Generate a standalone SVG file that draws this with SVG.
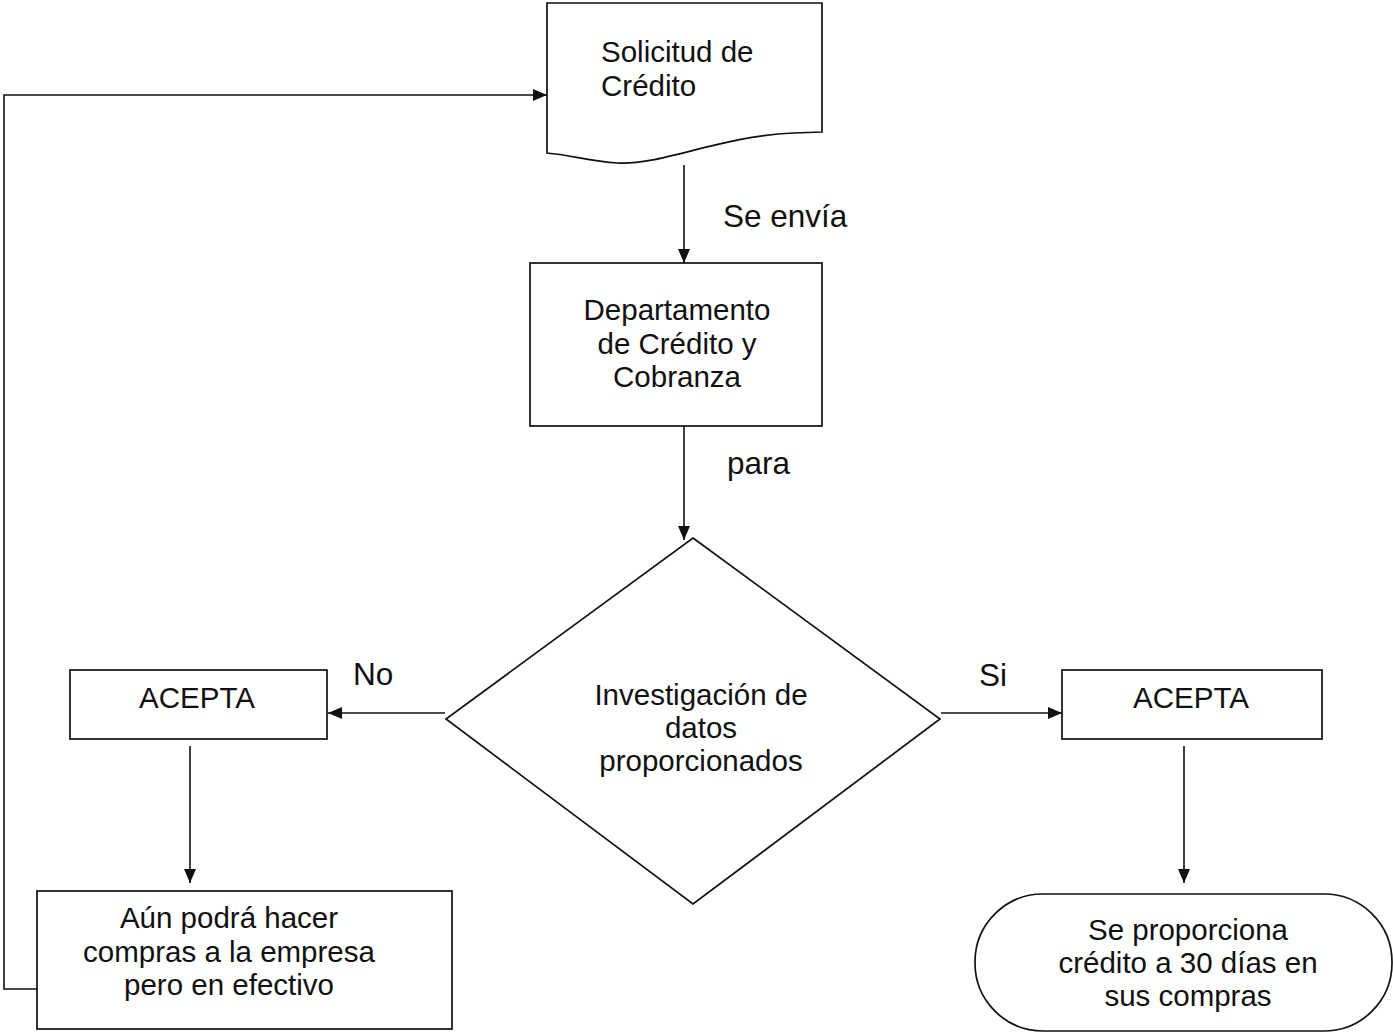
<svg xmlns="http://www.w3.org/2000/svg" width="1393" height="1033" viewBox="0 0 1393 1033">
<style>
.s{fill:#fff;stroke:#111;stroke-width:1.7}
.c{fill:none;stroke:#111;stroke-width:1.6}
text{font-family:"Liberation Sans",Arial,sans-serif;font-size:29.5px;fill:#111}
.l{font-size:31.5px}
.m{text-anchor:middle}
</style>
<defs>
<marker id="a" viewBox="0 0 14 12" refX="14" refY="6" markerWidth="14" markerHeight="12" markerUnits="userSpaceOnUse" orient="auto">
<path d="M0,0 L14,6 L0,12 Z" fill="#111"/>
</marker>
</defs>
<rect width="1393" height="1033" fill="#fff"/>
<g id="connectors">
<line class="c" x1="684" y1="165" x2="684" y2="263" marker-end="url(#a)"/>
<line class="c" x1="684" y1="426" x2="684" y2="540" marker-end="url(#a)"/>
<line class="c" x1="445" y1="713" x2="328" y2="713" marker-end="url(#a)"/>
<line class="c" x1="941" y1="713" x2="1062" y2="713" marker-end="url(#a)"/>
<line class="c" x1="190" y1="746" x2="190" y2="883" marker-end="url(#a)"/>
<line class="c" x1="1184" y1="746" x2="1184" y2="883" marker-end="url(#a)"/>
<polyline class="c" points="37,989 4,989 4,95 547,95" marker-end="url(#a)"/>
<text class="l" x="723" y="227">Se envía</text>
<text class="l" x="727" y="474">para</text>
<text class="l" x="353" y="685">No</text>
<text class="l" x="979" y="686">Si</text>
</g>
<g id="solicitud">
<path class="s" d="M547,3 L822,3 L822,132 L793,133 C720,136 660,166 617,163 C590,161 570,155 547,153 Z"/>
<text x="601" y="62">Solicitud de</text>
<text x="601" y="96">Crédito</text>
</g>
<g id="departamento">
<rect class="s" x="530" y="263" width="292" height="163"/>
<text class="m" x="677" y="320">Departamento</text>
<text class="m" x="677" y="354">de Crédito y</text>
<text class="m" x="677" y="387">Cobranza</text>
</g>
<g id="investigacion">
<polygon class="s" points="693,538 940,719 693,904 446,719"/>
<text class="m" x="701" y="705">Investigación de</text>
<text class="m" x="701" y="738">datos</text>
<text class="m" x="701" y="771">proporcionados</text>
</g>
<g id="acepta-no">
<rect class="s" x="70" y="670" width="257" height="69"/>
<text class="m" x="197" y="708">ACEPTA</text>
</g>
<g id="acepta-si">
<rect class="s" x="1062" y="670" width="260" height="69"/>
<text class="m" x="1191" y="708">ACEPTA</text>
</g>
<g id="efectivo">
<rect class="s" x="37" y="891" width="415" height="138"/>
<text class="m" x="229" y="928">Aún podrá hacer</text>
<text class="m" x="229" y="962">compras a la empresa</text>
<text class="m" x="229" y="995">pero en efectivo</text>
</g>
<g id="credito">
<rect class="s" x="975" y="894" width="417" height="137" rx="68" ry="68"/>
<text class="m" x="1188" y="940">Se proporciona</text>
<text class="m" x="1188" y="973">crédito a 30 días en</text>
<text class="m" x="1188" y="1006">sus compras</text>
</g>
</svg>
